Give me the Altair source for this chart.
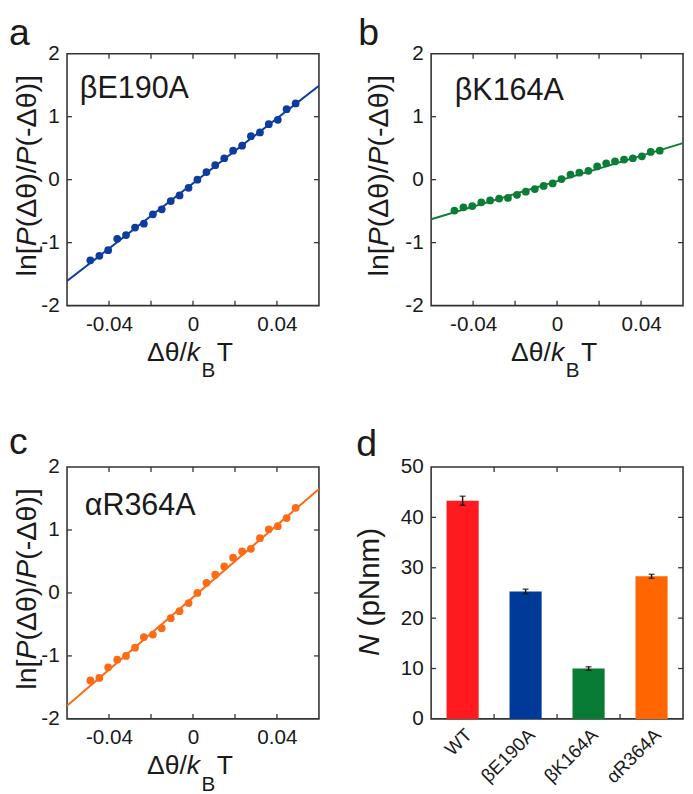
import altair as alt
import pandas as pd

FONT = "Liberation Sans"
INK = "#1a1a1a"

# ---------------- data ----------------
dtheta = [-0.0489, -0.0446, -0.0404, -0.0361, -0.0319, -0.0276, -0.0234, -0.0191,
          -0.0149, -0.0106, -0.0064, -0.0021, 0.0021, 0.0064, 0.0106, 0.0149,
          0.0191, 0.0234, 0.0276, 0.0319, 0.0361, 0.0404, 0.0446, 0.0489]
ln_E190A = [-1.28, -1.21, -1.12, -0.94, -0.88, -0.76, -0.70, -0.55, -0.47, -0.34, -0.25, -0.13,
            0.00, 0.12, 0.23, 0.34, 0.46, 0.54, 0.69, 0.75, 0.88, 0.95, 1.12, 1.21]
ln_K164A = [-0.49, -0.44, -0.42, -0.36, -0.33, -0.30, -0.29, -0.24, -0.19, -0.15, -0.10, -0.06,
            0.01, 0.08, 0.11, 0.14, 0.21, 0.26, 0.29, 0.32, 0.34, 0.37, 0.44, 0.46]
ln_R364A = [-1.39, -1.35, -1.18, -1.06, -1.00, -0.87, -0.70, -0.66, -0.56, -0.40, -0.29, -0.16,
            0.00, 0.16, 0.29, 0.42, 0.56, 0.66, 0.70, 0.87, 1.01, 1.06, 1.19, 1.35]
fit_x = [-0.06, 0.06]
fit_E190A = [-1.61, 1.49]
fit_K164A = [-0.63, 0.58]
fit_R364A = [-1.79, 1.65]

bar_names = ["WT", "βE190A", "βK164A", "αR364A"]
bar_values = [43.3, 25.3, 10.0, 28.3]
bar_errors = [0.9, 0.45, 0.35, 0.4]
bar_colors = ["#FF1A1F", "#003A99", "#087B35", "#FF6600"]

x_ticks = [-0.04, -0.02, 0.0, 0.02, 0.04]
x_labels = [-0.04, 0.0, 0.04]
y_ticks = [-1, 0, 1]
y_labels = [-2, -1, 0, 1, 2]
n_ticks = [10, 20, 30, 40]
n_labels = [0, 10, 20, 30, 40, 50]

W = H = 256
TL = 5  # inward tick length

EM = {"l": 0.222, "n": 0.556, "[": 0.278, "]": 0.278, "P": 0.667, "(": 0.333, ")": 0.333,
      "Δ": 0.667, "θ": 0.556, "/": 0.278, "-": 0.333, "k": 0.5, "B": 0.667, "T": 0.611,
      "N": 0.722, " ": 0.278, "p": 0.556, "m": 0.833}


def width(s, size):
    return sum(EM[c] for c in s) * size


def txt(s, x, y, size, style="normal", angle=0, align="left", baseline="alphabetic"):
    return alt.Chart(pd.DataFrame({"t": [s]})).mark_text(
        font=FONT, fontSize=size, fontStyle=style, angle=angle, align=align,
        baseline=baseline, color=INK
    ).encode(text="t:N", x=alt.value(x), y=alt.value(y))


def ytitle(segments, size, xb, yc):
    total = sum(width(s, size) for s, _ in segments)
    y0 = yc + total / 2
    layers = []
    off = 0
    for s, st in segments:
        shown = s.strip()
        lead = width(s[: len(s) - len(s.lstrip())], size)
        layers.append(txt(shown, xb, y0 - off - lead, size, style=st, angle=270))
        off += width(s, size)
    return layers


def xtitle(size, sub, yb, xc):
    segs = [("Δθ/", "normal", size, 0), ("k", "italic", size, 0), ("B", "normal", sub, 17), ("T", "normal", size, 0)]
    widths = [width(s, sz) + (1.5 if s in ("k", "B") else 0) for s, _, sz, _ in segs]
    total = sum(widths)
    x0 = xc - total / 2
    layers = []
    off = 0
    for (s, st, sz, d), wv in zip(segs, widths):
        layers.append(txt(s, x0 + off, yb + d, sz, style=st))
        off += wv
    return layers


XS = alt.Scale(domain=[-0.06, 0.06], nice=False, zero=False)
YS = alt.Scale(domain=[-2, 2], nice=False, zero=False)
AX_X = alt.Axis(values=x_labels, labelExpr="toString(datum.value)", title=None,
                labelPadding=8, labelFontSize=21)
AX_Y = alt.Axis(values=y_labels, labelExpr="toString(datum.value)", title=None,
                labelPadding=8, labelFontSize=21)


def scatter_panel(yvals, fit, color, letter, name, name_dx, name_y, title_x, letter_dx, letter_y):
    pts = pd.DataFrame({"x": dtheta, "y": yvals})
    fitdf = pd.DataFrame({"x": fit_x, "y": fit})
    xt = pd.DataFrame({"x": x_ticks})
    yt = pd.DataFrame({"y": y_ticks})
    X = alt.X("x:Q", scale=XS, axis=AX_X)
    Y = alt.Y("y:Q", scale=YS, axis=AX_Y)
    layers = [
        alt.Chart(fitdf).mark_line(color=color, strokeWidth=2, clip=True).encode(x=X, y=Y),
        alt.Chart(pts).mark_circle(color=color, size=62, opacity=1).encode(x=X, y=Y),
        alt.Chart(xt).mark_rule(color="#333", strokeWidth=1.3).encode(x=X, y=alt.value(0), y2=alt.value(TL)),
        alt.Chart(xt).mark_rule(color="#333", strokeWidth=1.3).encode(x=X, y=alt.value(H - TL), y2=alt.value(H)),
        alt.Chart(yt).mark_rule(color="#333", strokeWidth=1.3).encode(y=Y, x=alt.value(0), x2=alt.value(TL)),
        alt.Chart(yt).mark_rule(color="#333", strokeWidth=1.3).encode(y=Y, x=alt.value(W - TL), x2=alt.value(W)),
        txt(name, name_dx, name_y, 31),
        txt(letter, letter_dx, letter_y, 38),
    ]
    layers += ytitle([("ln[", "normal"), ("P", "italic"), ("(Δθ)/", "normal"), ("P", "italic"),
                      ("(-Δθ)]", "normal")], 29, title_x, 124)
    layers += xtitle(27, 21, H + 56, 125)
    return alt.layer(*layers).properties(width=W, height=H)


pa = scatter_panel(ln_E190A, fit_E190A, "#0B3C9E", "a", "βE190A", 13, 45, -32, -59, -9)
pb = scatter_panel(ln_K164A, fit_K164A, "#0A7D36", "b", "βK164A", 24, 47, -44, -74, -9)
pc = scatter_panel(ln_R364A, fit_R364A, "#FF6A14", "c", "αR364A", 18, 49, -32, -59, -13)

# ---------------- bar panel ----------------
bars = pd.DataFrame({"cat": bar_names, "N": bar_values,
                     "lo": [v - e for v, e in zip(bar_values, bar_errors)],
                     "hi": [v + e for v, e in zip(bar_values, bar_errors)]})
CS = alt.Scale(domain=bar_names, paddingInner=0, paddingOuter=0)
NS = alt.Scale(domain=[0, 50], nice=False, zero=True)
AX_C = alt.Axis(title=None, labels=False)
AX_N = alt.Axis(values=n_labels, title=None, labelPadding=8, labelFontSize=21)
XC = alt.X("cat:N", scale=CS, axis=AX_C, sort=bar_names)

bt = pd.DataFrame({"cat": bar_names[1:]})
nt = pd.DataFrame({"N": n_ticks})
XB = alt.X("cat:N", scale=CS, axis=AX_C, sort=bar_names, bandPosition=0)
YN = alt.Y("N:Q", scale=NS, axis=AX_N)

d_layers = [
    alt.Chart(bars).mark_bar(width=alt.RelativeBandSize(0.51)).encode(
        x=XC, y=YN,
        color=alt.Color("cat:N", scale=alt.Scale(domain=bar_names, range=bar_colors), legend=None)),
    alt.Chart(bars).mark_rule(color="#111", strokeWidth=1.5).encode(
        x=XC, y=alt.Y("lo:Q", scale=NS, axis=AX_N), y2="hi:Q"),
    alt.Chart(bars).mark_tick(color="#111", thickness=1.5, size=6).encode(
        x=XC, y=alt.Y("lo:Q", scale=NS, axis=AX_N)),
    alt.Chart(bars).mark_tick(color="#111", thickness=1.5, size=6).encode(
        x=XC, y=alt.Y("hi:Q", scale=NS, axis=AX_N)),
    alt.Chart(bars).mark_text(font=FONT, fontSize=19, angle=315, align="right", baseline="top",
                              color=INK).encode(x=XC, y=alt.value(H + 7), text="cat:N"),
    alt.Chart(bt).mark_rule(color="#333", strokeWidth=1.3).encode(x=XB, y=alt.value(0), y2=alt.value(TL)),
    alt.Chart(bt).mark_rule(color="#333", strokeWidth=1.3).encode(x=XB, y=alt.value(H - TL), y2=alt.value(H)),
    alt.Chart(nt).mark_rule(color="#333", strokeWidth=1.3).encode(y=YN, x=alt.value(0), x2=alt.value(TL)),
    alt.Chart(nt).mark_rule(color="#333", strokeWidth=1.3).encode(y=YN, x=alt.value(W - TL), x2=alt.value(W)),
    txt("d", -76, -11, 38),
]
d_layers += ytitle([("N", "italic"), (" (pNnm)", "normal")], 30, -53, 127)
pd_ = alt.layer(*d_layers).properties(width=W, height=H)

chart = alt.concat(
    pa, pb, pc, pd_, columns=2, spacing={"row": 164, "column": 114}, bounds="flush"
).properties(
    padding={"left": 0, "top": 0, "right": 0, "bottom": 0}
).configure_view(
    stroke="#333", strokeWidth=1.6
).configure_axis(
    domain=False, ticks=False, grid=False, labelFont=FONT, labelColor=INK
)

chart.save("out.html", embed_options={"renderer": "svg", "actions": False})
